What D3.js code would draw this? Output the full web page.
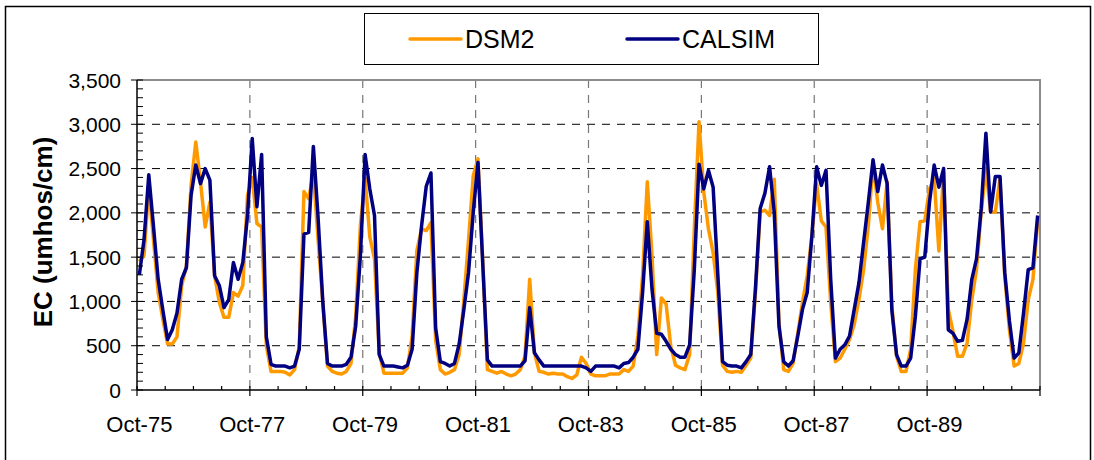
<!DOCTYPE html>
<html>
<head>
<meta charset="utf-8">
<script src="https://cdn.jsdelivr.net/npm/d3@7"></script>
<style>
    body{margin:0;background:#fff;}
    text{font-family:"Liberation Sans",Arial,sans-serif;fill:#000;}
</style>
</head>
<body>
<div class="chart_container"></div>
<script>
// monthly EC, Oct-75 .. Sep-91
var dsm2 = [1450,1520,2300,1700,1100,800,520,520,600,1180,1400,2310,2800,2350,1840,2120,1290,990,820,820,1100,1060,1180,2200,
    2400,1880,1840,500,210,210,210,200,170,230,490,2240,2160,2450,1700,990,270,210,190,180,210,300,830,1860,
    2390,1730,1480,420,190,190,190,190,190,250,610,1570,1820,1800,1890,560,230,180,200,230,400,1020,1700,2420,
    2610,1480,230,210,190,210,180,160,180,230,380,1250,420,210,200,180,190,180,180,150,130,170,
    370,300,180,160,160,160,180,180,180,230,210,270,610,1290,2350,1520,400,1040,970,490,280,250,230,400,1820,3030,
    2240,1820,1550,1100,280,210,200,210,200,280,360,1100,2010,2030,1970,2380,760,230,210,300,640,990,1290,1740,
    2330,1910,1840,990,320,360,460,570,740,1020,1360,1860,2560,2120,1820,2350,950,380,210,210,460,1360,1900,1910,
    2270,2390,1570,2460,910,660,380,380,530,1020,1360,2010,2500,2010,2010,2390,1290,680,270,300,530,1020,1250,1900];
var calsim = [1300,1700,2430,1850,1250,900,570,680,870,1250,1380,2200,2540,2330,2500,2370,1290,1180,930,1020,1440,1250,1440,1970,
    2840,2070,2660,600,290,270,270,270,250,270,460,1760,1780,2750,1950,1000,300,270,270,270,290,370,720,1520,
    2660,2270,1970,400,270,270,270,260,250,280,460,1320,1850,2300,2450,700,320,300,270,300,520,910,1330,2010,
    2570,1440,340,270,270,270,270,270,270,270,330,930,420,340,270,270,270,270,270,270,270,270,
    270,250,210,270,270,270,270,270,250,300,310,370,460,1100,1900,1140,640,630,550,460,400,370,370,510,1360,2550,
    2270,2480,2290,1300,320,280,270,270,250,320,400,1150,2050,2220,2520,2000,720,320,270,330,610,910,1100,1740,
    2520,2310,2480,1250,360,460,510,610,910,1210,1670,2120,2600,2240,2540,2330,900,400,270,270,360,830,1480,1500,
    2120,2540,2290,2500,680,640,550,560,800,1250,1480,2050,2900,2010,2410,2410,1330,780,360,420,870,1360,1380,1970];
var xLabels = ["Oct-75","Oct-77","Oct-79","Oct-81","Oct-83","Oct-85","Oct-87","Oct-89"];
var yTicks = [0,500,1000,1500,2000,2500,3000,3500];
var seriesNames = ["DSM2","CALSIM"];
var seriesColors = ["#FF9900","#000080"];

var W = 1094, H = 460;
var margin = {top: 80, right: 54, bottom: 70, left: 137};
var width = W - margin.left - margin.right,   /* 903 */
    height = H - margin.top - margin.bottom;  /* 310 */

var svg = d3.select(".chart_container").append("svg")
    .attr("width", W)
    .attr("height", H);

/* outer frame of the chart */
svg.append("rect")
    .attr("x", 5.5).attr("y", 6.5)
    .attr("width", 1085).attr("height", 470)
    .attr("fill", "#fff")
    .attr("stroke", "#000")
    .attr("stroke-width", 1.5);

var months = d3.timeMonth.range(new Date(1975, 9, 1), new Date(1991, 9, 1));
var fmt = d3.timeFormat("%b-%y");

var x = d3.scaleBand()
    .domain(d3.range(months.length))
    .range([0, width])
    .paddingInner(0).paddingOuter(0);
var bw = x.bandwidth();
var y = d3.scaleLinear()
    .domain([0, 3500])
    .range([height, 0]);

var g = svg.append("g").attr("transform", "translate(" + margin.left + "," + margin.top + ")");

/* horizontal grid, black dashes */
g.selectAll(".hgrid")
    .data(yTicks.filter(function(d){ return d > 0 && d < 3500; }))
    .enter().append("line")
    .attr("class", "hgrid")
    .attr("x1", 0).attr("x2", width)
    .attr("y1", function(d){ return y(d); })
    .attr("y2", function(d){ return y(d); })
    .attr("stroke", "#000")
    .attr("stroke-width", 1)
    .attr("stroke-dasharray", "8,7");

/* vertical grid at every labelled October, grey dashes */
var labelIdx = months.map(function(m, i){ return i; })
    .filter(function(i){ return xLabels.indexOf(fmt(months[i])) >= 0; });
g.selectAll(".vgrid")
    .data(labelIdx.filter(function(i){ return i > 0; }))
    .enter().append("line")
    .attr("class", "vgrid")
    .attr("x1", function(i){ return x(i); })
    .attr("x2", function(i){ return x(i); })
    .attr("y1", 0).attr("y2", height)
    .attr("stroke", "#777")
    .attr("stroke-width", 1.2)
    .attr("stroke-dasharray", "8,7");

/* plot area border top / right */
g.append("path")
    .attr("d", "M0,0H" + width + "V" + height)
    .attr("fill", "none")
    .attr("stroke", "#8c8c8c")
    .attr("stroke-width", 2);

var line = d3.line()
    .x(function(d, i){ return x(i) + bw / 2; })
    .y(function(d){ return y(d); });

[dsm2, calsim].forEach(function(s, k){
    g.append("path")
        .datum(s)
        .attr("fill", "none")
        .attr("stroke", seriesColors[k])
        .attr("stroke-width", 3.5)
        .attr("stroke-linejoin", "round")
        .attr("d", line);
});

/* x axis */
g.append("line")
    .attr("x1", 0).attr("x2", width)
    .attr("y1", height).attr("y2", height)
    .attr("stroke", "#000").attr("stroke-width", 1.5);
var tickIdx = d3.range(0, months.length + 1, 6);
g.selectAll(".xtick")
    .data(tickIdx)
    .enter().append("line")
    .attr("class", "xtick")
    .attr("x1", function(i){ return i < months.length ? x(i) : width; })
    .attr("x2", function(i){ return i < months.length ? x(i) : width; })
    .attr("y1", function(i){ return i % 24 == 0 ? height - 4 : height - 4; })
    .attr("y2", function(i){ return i % 24 == 0 ? height + 6 : height; })
    .attr("stroke", "#000").attr("stroke-width", 1.2);
g.selectAll(".xlabel")
    .data(labelIdx)
    .enter().append("text")
    .attr("class", "xlabel")
    .attr("x", function(i){ return x(i) + bw / 2; })
    .attr("y", height + 42)
    .attr("text-anchor", "middle")
    .style("font-size", "22px")
    .text(function(i){ return fmt(months[i]); });

/* y axis */
g.append("line")
    .attr("x1", 0).attr("x2", 0)
    .attr("y1", 0).attr("y2", height)
    .attr("stroke", "#000").attr("stroke-width", 1.5);
g.selectAll(".ytick")
    .data(d3.range(0, 3501, 100))
    .enter().append("line")
    .attr("class", "ytick")
    .attr("x1", function(d){ return d % 500 == 0 ? -6 : 0; })
    .attr("x2", 6)
    .attr("y1", function(d){ return y(d); })
    .attr("y2", function(d){ return y(d); })
    .attr("stroke", "#000").attr("stroke-width", 1);
g.selectAll(".ylabel")
    .data(yTicks)
    .enter().append("text")
    .attr("class", "ylabel")
    .attr("x", -16)
    .attr("y", function(d){ return y(d); })
    .attr("dy", "0.36em")
    .attr("text-anchor", "end")
    .style("font-size", "21px")
    .text(d3.format(","));

svg.append("text")
    .attr("transform", "translate(52,232) rotate(-90)")
    .attr("text-anchor", "middle")
    .style("font-size", "26px")
    .style("font-weight", "bold")
    .text("EC (umhos/cm)");

/* legend */
var legend = svg.append("g");
legend.append("rect")
    .attr("x", 364.5).attr("y", 13.5)
    .attr("width", 454).attr("height", 51)
    .attr("fill", "#fff")
    .attr("stroke", "#000")
    .attr("stroke-width", 1);
var legX = [410, 627];
seriesNames.forEach(function(name, k){
    legend.append("line")
        .attr("x1", legX[k]).attr("x2", legX[k] + 51)
        .attr("y1", 39).attr("y2", 39)
        .attr("stroke", seriesColors[k])
        .attr("stroke-width", 3.5)
        .attr("stroke-linecap", "round");
    legend.append("text")
        .attr("x", legX[k] + 55)
        .attr("y", 47.5)
        .style("font-size", "25px")
        .text(name);
});
</script>
</body>
</html>
